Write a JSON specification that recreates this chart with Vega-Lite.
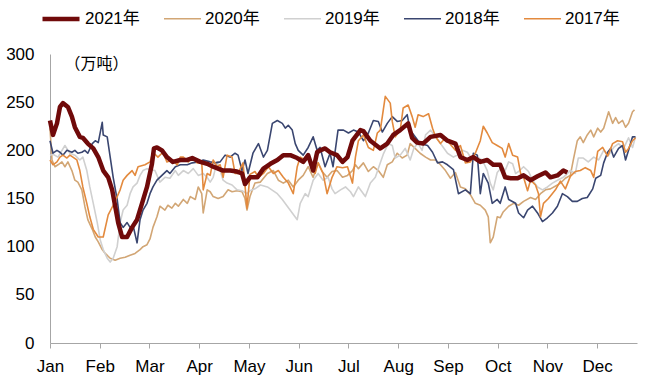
{
"$schema": "https://vega.github.io/schema/vega-lite/v6.json",
"width": 587, "height": 289,
"autosize": "none",
"padding": {"left": 50, "top": 54, "right": 21, "bottom": 41},
"background": "white",
"config": {"view": {"stroke": null}, "font": "Liberation Sans, Noto Sans CJK SC"},
"data": {"values": [
{"s":"2020年","t":0,"v":223},{"s":"2020年","t":0.04,"v":190},{"s":"2020年","t":0.1,"v":183},{"s":"2020年","t":0.16,"v":185},{"s":"2020年","t":0.24,"v":188},{"s":"2020年","t":0.3,"v":183},{"s":"2020年","t":0.36,"v":188},{"s":"2020年","t":0.44,"v":179},{"s":"2020年","t":0.5,"v":169},{"s":"2020年","t":0.56,"v":167},{"s":"2020年","t":0.64,"v":159},{"s":"2020年","t":0.7,"v":142},{"s":"2020年","t":0.76,"v":128},{"s":"2020年","t":0.85,"v":118},{"s":"2020年","t":0.91,"v":110},{"s":"2020年","t":0.97,"v":105},{"s":"2020年","t":1.05,"v":97},{"s":"2020年","t":1.11,"v":93},{"s":"2020年","t":1.21,"v":88},{"s":"2020年","t":1.31,"v":86},{"s":"2020年","t":1.41,"v":88},{"s":"2020年","t":1.51,"v":89},{"s":"2020年","t":1.61,"v":91},{"s":"2020年","t":1.71,"v":93},{"s":"2020年","t":1.81,"v":97},{"s":"2020年","t":1.87,"v":100},{"s":"2020年","t":1.95,"v":102},{"s":"2020年","t":2.01,"v":108},{"s":"2020年","t":2.07,"v":120},{"s":"2020年","t":2.15,"v":131},{"s":"2020年","t":2.21,"v":142},{"s":"2020年","t":2.31,"v":138},{"s":"2020年","t":2.37,"v":143},{"s":"2020年","t":2.45,"v":140},{"s":"2020年","t":2.52,"v":145},{"s":"2020年","t":2.58,"v":142},{"s":"2020年","t":2.68,"v":149},{"s":"2020年","t":2.76,"v":145},{"s":"2020年","t":2.82,"v":152},{"s":"2020年","t":2.92,"v":149},{"s":"2020年","t":2.98,"v":162},{"s":"2020年","t":3.05,"v":155},{"s":"2020年","t":3.08,"v":135},{"s":"2020年","t":3.16,"v":159},{"s":"2020年","t":3.22,"v":157},{"s":"2020年","t":3.28,"v":152},{"s":"2020年","t":3.38,"v":150},{"s":"2020年","t":3.48,"v":152},{"s":"2020年","t":3.58,"v":159},{"s":"2020年","t":3.66,"v":157},{"s":"2020年","t":3.76,"v":158},{"s":"2020年","t":3.86,"v":157},{"s":"2020年","t":3.92,"v":150},{"s":"2020年","t":3.96,"v":138},{"s":"2020年","t":4.02,"v":152},{"s":"2020年","t":4.12,"v":166},{"s":"2020年","t":4.23,"v":167},{"s":"2020年","t":4.37,"v":176},{"s":"2020年","t":4.49,"v":179},{"s":"2020年","t":4.59,"v":169},{"s":"2020年","t":4.69,"v":166},{"s":"2020年","t":4.79,"v":169},{"s":"2020年","t":4.89,"v":162},{"s":"2020年","t":4.99,"v":169},{"s":"2020年","t":5.09,"v":174},{"s":"2020年","t":5.19,"v":183},{"s":"2020年","t":5.29,"v":172},{"s":"2020年","t":5.39,"v":187},{"s":"2020年","t":5.47,"v":178},{"s":"2020年","t":5.57,"v":172},{"s":"2020年","t":5.67,"v":178},{"s":"2020年","t":5.77,"v":179},{"s":"2020年","t":5.88,"v":172},{"s":"2020年","t":5.98,"v":174},{"s":"2020年","t":6.08,"v":179},{"s":"2020年","t":6.14,"v":185},{"s":"2020年","t":6.2,"v":181},{"s":"2020年","t":6.3,"v":187},{"s":"2020年","t":6.4,"v":178},{"s":"2020年","t":6.5,"v":183},{"s":"2020年","t":6.6,"v":179},{"s":"2020年","t":6.7,"v":172},{"s":"2020年","t":6.78,"v":185},{"s":"2020年","t":6.88,"v":188},{"s":"2020年","t":6.98,"v":197},{"s":"2020年","t":7.08,"v":192},{"s":"2020年","t":7.18,"v":195},{"s":"2020年","t":7.24,"v":207},{"s":"2020年","t":7.34,"v":202},{"s":"2020年","t":7.44,"v":197},{"s":"2020年","t":7.55,"v":193},{"s":"2020年","t":7.65,"v":190},{"s":"2020年","t":7.75,"v":190},{"s":"2020年","t":7.85,"v":185},{"s":"2020年","t":7.95,"v":179},{"s":"2020年","t":8.05,"v":171},{"s":"2020年","t":8.15,"v":177},{"s":"2020年","t":8.25,"v":162},{"s":"2020年","t":8.35,"v":160},{"s":"2020年","t":8.45,"v":154},{"s":"2020年","t":8.55,"v":145},{"s":"2020年","t":8.65,"v":143},{"s":"2020年","t":8.75,"v":138},{"s":"2020年","t":8.81,"v":131},{"s":"2020年","t":8.85,"v":104},{"s":"2020年","t":8.91,"v":110},{"s":"2020年","t":8.99,"v":131},{"s":"2020年","t":9.05,"v":130},{"s":"2020年","t":9.11,"v":136},{"s":"2020年","t":9.22,"v":142},{"s":"2020年","t":9.32,"v":145},{"s":"2020年","t":9.42,"v":143},{"s":"2020年","t":9.52,"v":147},{"s":"2020年","t":9.66,"v":151},{"s":"2020年","t":9.76,"v":149},{"s":"2020年","t":9.86,"v":155},{"s":"2020年","t":9.96,"v":159},{"s":"2020年","t":10.06,"v":160},{"s":"2020年","t":10.2,"v":164},{"s":"2020年","t":10.26,"v":166},{"s":"2020年","t":10.36,"v":171},{"s":"2020年","t":10.46,"v":174},{"s":"2020年","t":10.52,"v":190},{"s":"2020年","t":10.6,"v":210},{"s":"2020年","t":10.66,"v":214},{"s":"2020年","t":10.72,"v":208},{"s":"2020年","t":10.8,"v":216},{"s":"2020年","t":10.87,"v":221},{"s":"2020年","t":10.93,"v":214},{"s":"2020年","t":11.01,"v":223},{"s":"2020年","t":11.07,"v":219},{"s":"2020年","t":11.13,"v":223},{"s":"2020年","t":11.23,"v":240},{"s":"2020年","t":11.31,"v":228},{"s":"2020年","t":11.37,"v":234},{"s":"2020年","t":11.43,"v":228},{"s":"2020年","t":11.51,"v":231},{"s":"2020年","t":11.57,"v":224},{"s":"2020年","t":11.63,"v":228},{"s":"2020年","t":11.71,"v":240},{"s":"2020年","t":11.75,"v":242},
{"s":"2019年","t":0,"v":195},{"s":"2019年","t":0.06,"v":196},{"s":"2019年","t":0.16,"v":193},{"s":"2019年","t":0.3,"v":205},{"s":"2019年","t":0.4,"v":197},{"s":"2019年","t":0.5,"v":195},{"s":"2019年","t":0.6,"v":190},{"s":"2019年","t":0.66,"v":193},{"s":"2019年","t":0.74,"v":179},{"s":"2019年","t":0.8,"v":162},{"s":"2019年","t":0.87,"v":145},{"s":"2019年","t":0.95,"v":125},{"s":"2019年","t":1.01,"v":107},{"s":"2019年","t":1.07,"v":97},{"s":"2019年","t":1.15,"v":88},{"s":"2019年","t":1.21,"v":84},{"s":"2019年","t":1.27,"v":88},{"s":"2019年","t":1.35,"v":100},{"s":"2019年","t":1.41,"v":125},{"s":"2019年","t":1.47,"v":138},{"s":"2019年","t":1.55,"v":143},{"s":"2019年","t":1.61,"v":155},{"s":"2019年","t":1.67,"v":162},{"s":"2019年","t":1.75,"v":166},{"s":"2019年","t":1.81,"v":174},{"s":"2019年","t":1.87,"v":179},{"s":"2019年","t":1.95,"v":181},{"s":"2019年","t":2.01,"v":180},{"s":"2019年","t":2.11,"v":179},{"s":"2019年","t":2.21,"v":167},{"s":"2019年","t":2.31,"v":172},{"s":"2019年","t":2.41,"v":171},{"s":"2019年","t":2.52,"v":179},{"s":"2019年","t":2.58,"v":174},{"s":"2019年","t":2.68,"v":179},{"s":"2019年","t":2.78,"v":176},{"s":"2019年","t":2.88,"v":181},{"s":"2019年","t":2.98,"v":174},{"s":"2019年","t":3.08,"v":176},{"s":"2019年","t":3.16,"v":172},{"s":"2019年","t":3.22,"v":167},{"s":"2019年","t":3.28,"v":172},{"s":"2019年","t":3.36,"v":188},{"s":"2019年","t":3.42,"v":179},{"s":"2019年","t":3.48,"v":169},{"s":"2019年","t":3.56,"v":166},{"s":"2019年","t":3.66,"v":164},{"s":"2019年","t":3.76,"v":159},{"s":"2019年","t":3.86,"v":158},{"s":"2019年","t":3.96,"v":155},{"s":"2019年","t":4.02,"v":158},{"s":"2019年","t":4.12,"v":160},{"s":"2019年","t":4.23,"v":164},{"s":"2019年","t":4.37,"v":162},{"s":"2019年","t":4.57,"v":155},{"s":"2019年","t":4.67,"v":149},{"s":"2019年","t":4.77,"v":142},{"s":"2019年","t":4.87,"v":135},{"s":"2019年","t":4.97,"v":128},{"s":"2019年","t":5.03,"v":145},{"s":"2019年","t":5.13,"v":155},{"s":"2019年","t":5.19,"v":152},{"s":"2019年","t":5.29,"v":169},{"s":"2019年","t":5.39,"v":176},{"s":"2019年","t":5.49,"v":169},{"s":"2019年","t":5.59,"v":172},{"s":"2019年","t":5.67,"v":160},{"s":"2019年","t":5.73,"v":155},{"s":"2019年","t":5.84,"v":159},{"s":"2019年","t":5.94,"v":162},{"s":"2019年","t":6.04,"v":157},{"s":"2019年","t":6.1,"v":152},{"s":"2019年","t":6.2,"v":162},{"s":"2019年","t":6.34,"v":152},{"s":"2019年","t":6.44,"v":166},{"s":"2019年","t":6.54,"v":172},{"s":"2019年","t":6.64,"v":187},{"s":"2019年","t":6.7,"v":196},{"s":"2019年","t":6.8,"v":207},{"s":"2019年","t":6.88,"v":205},{"s":"2019年","t":6.94,"v":192},{"s":"2019年","t":7.04,"v":195},{"s":"2019年","t":7.14,"v":202},{"s":"2019年","t":7.24,"v":190},{"s":"2019年","t":7.32,"v":203},{"s":"2019年","t":7.4,"v":207},{"s":"2019年","t":7.48,"v":200},{"s":"2019年","t":7.55,"v":216},{"s":"2019年","t":7.65,"v":221},{"s":"2019年","t":7.75,"v":214},{"s":"2019年","t":7.85,"v":207},{"s":"2019年","t":7.99,"v":197},{"s":"2019年","t":8.11,"v":193},{"s":"2019年","t":8.19,"v":195},{"s":"2019年","t":8.29,"v":200},{"s":"2019年","t":8.39,"v":198},{"s":"2019年","t":8.49,"v":190},{"s":"2019年","t":8.59,"v":193},{"s":"2019年","t":8.69,"v":190},{"s":"2019年","t":8.79,"v":179},{"s":"2019年","t":8.85,"v":166},{"s":"2019年","t":8.91,"v":159},{"s":"2019年","t":8.99,"v":177},{"s":"2019年","t":9.09,"v":183},{"s":"2019年","t":9.15,"v":179},{"s":"2019年","t":9.22,"v":188},{"s":"2019年","t":9.3,"v":186},{"s":"2019年","t":9.36,"v":176},{"s":"2019年","t":9.42,"v":178},{"s":"2019年","t":9.52,"v":183},{"s":"2019年","t":9.62,"v":178},{"s":"2019年","t":9.7,"v":169},{"s":"2019年","t":9.8,"v":162},{"s":"2019年","t":9.9,"v":159},{"s":"2019年","t":10,"v":162},{"s":"2019年","t":10.1,"v":166},{"s":"2019年","t":10.2,"v":169},{"s":"2019年","t":10.32,"v":172},{"s":"2019年","t":10.46,"v":179},{"s":"2019年","t":10.56,"v":176},{"s":"2019年","t":10.62,"v":192},{"s":"2019年","t":10.72,"v":192},{"s":"2019年","t":10.82,"v":188},{"s":"2019年","t":10.93,"v":193},{"s":"2019年","t":11.03,"v":190},{"s":"2019年","t":11.13,"v":200},{"s":"2019年","t":11.23,"v":195},{"s":"2019年","t":11.33,"v":203},{"s":"2019年","t":11.43,"v":207},{"s":"2019年","t":11.53,"v":202},{"s":"2019年","t":11.63,"v":213},{"s":"2019年","t":11.71,"v":203},{"s":"2019年","t":11.77,"v":214},
{"s":"2018年","t":0,"v":210},{"s":"2018年","t":0.06,"v":197},{"s":"2018年","t":0.14,"v":200},{"s":"2018年","t":0.2,"v":198},{"s":"2018年","t":0.26,"v":195},{"s":"2018年","t":0.34,"v":200},{"s":"2018年","t":0.44,"v":198},{"s":"2018年","t":0.5,"v":200},{"s":"2018年","t":0.56,"v":197},{"s":"2018年","t":0.64,"v":198},{"s":"2018年","t":0.7,"v":200},{"s":"2018年","t":0.76,"v":197},{"s":"2018年","t":0.85,"v":207},{"s":"2018年","t":0.91,"v":210},{"s":"2018年","t":0.97,"v":208},{"s":"2018年","t":1.05,"v":229},{"s":"2018年","t":1.07,"v":216},{"s":"2018年","t":1.15,"v":214},{"s":"2018年","t":1.21,"v":193},{"s":"2018年","t":1.27,"v":172},{"s":"2018年","t":1.35,"v":149},{"s":"2018年","t":1.41,"v":125},{"s":"2018年","t":1.47,"v":120},{"s":"2018年","t":1.55,"v":125},{"s":"2018年","t":1.61,"v":120},{"s":"2018年","t":1.67,"v":122},{"s":"2018年","t":1.75,"v":104},{"s":"2018年","t":1.81,"v":128},{"s":"2018年","t":1.87,"v":138},{"s":"2018年","t":1.95,"v":145},{"s":"2018年","t":2.01,"v":155},{"s":"2018年","t":2.07,"v":162},{"s":"2018年","t":2.15,"v":169},{"s":"2018年","t":2.25,"v":174},{"s":"2018年","t":2.35,"v":179},{"s":"2018年","t":2.41,"v":176},{"s":"2018年","t":2.52,"v":183},{"s":"2018年","t":2.62,"v":185},{"s":"2018年","t":2.76,"v":185},{"s":"2018年","t":2.86,"v":187},{"s":"2018年","t":2.98,"v":188},{"s":"2018年","t":3.08,"v":190},{"s":"2018年","t":3.22,"v":188},{"s":"2018年","t":3.32,"v":187},{"s":"2018年","t":3.42,"v":188},{"s":"2018年","t":3.52,"v":195},{"s":"2018年","t":3.62,"v":193},{"s":"2018年","t":3.72,"v":197},{"s":"2018年","t":3.78,"v":195},{"s":"2018年","t":3.86,"v":179},{"s":"2018年","t":3.92,"v":190},{"s":"2018年","t":3.98,"v":176},{"s":"2018年","t":4.08,"v":197},{"s":"2018年","t":4.19,"v":207},{"s":"2018年","t":4.29,"v":193},{"s":"2018年","t":4.37,"v":200},{"s":"2018年","t":4.47,"v":228},{"s":"2018年","t":4.57,"v":231},{"s":"2018年","t":4.67,"v":228},{"s":"2018年","t":4.73,"v":223},{"s":"2018年","t":4.79,"v":226},{"s":"2018年","t":4.87,"v":221},{"s":"2018年","t":4.93,"v":207},{"s":"2018年","t":4.99,"v":200},{"s":"2018年","t":5.09,"v":195},{"s":"2018年","t":5.19,"v":203},{"s":"2018年","t":5.29,"v":214},{"s":"2018年","t":5.37,"v":200},{"s":"2018年","t":5.43,"v":203},{"s":"2018年","t":5.53,"v":183},{"s":"2018年","t":5.63,"v":197},{"s":"2018年","t":5.69,"v":183},{"s":"2018年","t":5.79,"v":221},{"s":"2018年","t":5.9,"v":221},{"s":"2018年","t":6,"v":218},{"s":"2018年","t":6.1,"v":221},{"s":"2018年","t":6.2,"v":219},{"s":"2018年","t":6.3,"v":210},{"s":"2018年","t":6.4,"v":218},{"s":"2018年","t":6.5,"v":231},{"s":"2018年","t":6.6,"v":230},{"s":"2018年","t":6.68,"v":219},{"s":"2018年","t":6.78,"v":228},{"s":"2018年","t":6.88,"v":235},{"s":"2018年","t":6.98,"v":230},{"s":"2018年","t":7.08,"v":231},{"s":"2018年","t":7.18,"v":237},{"s":"2018年","t":7.24,"v":221},{"s":"2018年","t":7.34,"v":214},{"s":"2018年","t":7.44,"v":207},{"s":"2018年","t":7.59,"v":205},{"s":"2018年","t":7.69,"v":198},{"s":"2018年","t":7.79,"v":187},{"s":"2018年","t":7.89,"v":188},{"s":"2018年","t":7.99,"v":185},{"s":"2018年","t":8.11,"v":180},{"s":"2018年","t":8.21,"v":155},{"s":"2018年","t":8.35,"v":159},{"s":"2018年","t":8.45,"v":155},{"s":"2018年","t":8.51,"v":197},{"s":"2018年","t":8.59,"v":195},{"s":"2018年","t":8.65,"v":155},{"s":"2018年","t":8.71,"v":176},{"s":"2018年","t":8.81,"v":166},{"s":"2018年","t":8.89,"v":145},{"s":"2018年","t":8.99,"v":149},{"s":"2018年","t":9.05,"v":145},{"s":"2018年","t":9.15,"v":162},{"s":"2018年","t":9.22,"v":149},{"s":"2018年","t":9.36,"v":145},{"s":"2018年","t":9.42,"v":135},{"s":"2018年","t":9.52,"v":130},{"s":"2018年","t":9.6,"v":138},{"s":"2018年","t":9.7,"v":142},{"s":"2018年","t":9.8,"v":135},{"s":"2018年","t":9.9,"v":126},{"s":"2018年","t":10,"v":130},{"s":"2018年","t":10.1,"v":135},{"s":"2018年","t":10.2,"v":142},{"s":"2018年","t":10.3,"v":155},{"s":"2018年","t":10.4,"v":152},{"s":"2018年","t":10.5,"v":147},{"s":"2018年","t":10.6,"v":147},{"s":"2018年","t":10.7,"v":150},{"s":"2018年","t":10.8,"v":151},{"s":"2018年","t":10.91,"v":160},{"s":"2018年","t":10.97,"v":171},{"s":"2018年","t":11.07,"v":174},{"s":"2018年","t":11.13,"v":187},{"s":"2018年","t":11.21,"v":198},{"s":"2018年","t":11.27,"v":202},{"s":"2018年","t":11.33,"v":193},{"s":"2018年","t":11.43,"v":202},{"s":"2018年","t":11.51,"v":205},{"s":"2018年","t":11.57,"v":190},{"s":"2018年","t":11.63,"v":200},{"s":"2018年","t":11.71,"v":214},{"s":"2018年","t":11.77,"v":214},
{"s":"2017年","t":0,"v":190},{"s":"2017年","t":0.06,"v":185},{"s":"2017年","t":0.14,"v":188},{"s":"2017年","t":0.2,"v":193},{"s":"2017年","t":0.26,"v":195},{"s":"2017年","t":0.34,"v":192},{"s":"2017年","t":0.4,"v":195},{"s":"2017年","t":0.46,"v":193},{"s":"2017年","t":0.54,"v":190},{"s":"2017年","t":0.6,"v":179},{"s":"2017年","t":0.66,"v":162},{"s":"2017年","t":0.74,"v":145},{"s":"2017年","t":0.8,"v":131},{"s":"2017年","t":0.87,"v":118},{"s":"2017年","t":0.97,"v":110},{"s":"2017年","t":1.07,"v":110},{"s":"2017年","t":1.17,"v":133},{"s":"2017年","t":1.27,"v":143},{"s":"2017年","t":1.35,"v":152},{"s":"2017年","t":1.41,"v":159},{"s":"2017年","t":1.47,"v":169},{"s":"2017年","t":1.55,"v":174},{"s":"2017年","t":1.65,"v":179},{"s":"2017年","t":1.71,"v":174},{"s":"2017年","t":1.77,"v":183},{"s":"2017年","t":1.91,"v":185},{"s":"2017年","t":2.01,"v":188},{"s":"2017年","t":2.07,"v":198},{"s":"2017年","t":2.17,"v":193},{"s":"2017年","t":2.27,"v":198},{"s":"2017年","t":2.35,"v":188},{"s":"2017年","t":2.45,"v":190},{"s":"2017年","t":2.56,"v":185},{"s":"2017年","t":2.62,"v":193},{"s":"2017年","t":2.68,"v":193},{"s":"2017年","t":2.78,"v":188},{"s":"2017年","t":2.86,"v":193},{"s":"2017年","t":2.96,"v":187},{"s":"2017年","t":3.05,"v":188},{"s":"2017年","t":3.08,"v":159},{"s":"2017年","t":3.16,"v":176},{"s":"2017年","t":3.22,"v":174},{"s":"2017年","t":3.28,"v":190},{"s":"2017年","t":3.36,"v":183},{"s":"2017年","t":3.42,"v":185},{"s":"2017年","t":3.48,"v":172},{"s":"2017年","t":3.56,"v":195},{"s":"2017年","t":3.66,"v":193},{"s":"2017年","t":3.72,"v":176},{"s":"2017年","t":3.78,"v":176},{"s":"2017年","t":3.88,"v":187},{"s":"2017年","t":3.96,"v":140},{"s":"2017年","t":4.02,"v":175},{"s":"2017年","t":4.12,"v":178},{"s":"2017年","t":4.19,"v":172},{"s":"2017年","t":4.29,"v":176},{"s":"2017年","t":4.39,"v":183},{"s":"2017年","t":4.49,"v":176},{"s":"2017年","t":4.59,"v":179},{"s":"2017年","t":4.69,"v":172},{"s":"2017年","t":4.79,"v":166},{"s":"2017年","t":4.89,"v":155},{"s":"2017年","t":4.97,"v":183},{"s":"2017年","t":5.03,"v":193},{"s":"2017年","t":5.13,"v":190},{"s":"2017年","t":5.19,"v":195},{"s":"2017年","t":5.27,"v":179},{"s":"2017年","t":5.33,"v":176},{"s":"2017年","t":5.39,"v":187},{"s":"2017年","t":5.49,"v":176},{"s":"2017年","t":5.57,"v":155},{"s":"2017年","t":5.67,"v":172},{"s":"2017年","t":5.77,"v":183},{"s":"2017年","t":5.88,"v":182},{"s":"2017年","t":5.98,"v":183},{"s":"2017年","t":6.08,"v":166},{"s":"2017年","t":6.14,"v":193},{"s":"2017年","t":6.2,"v":210},{"s":"2017年","t":6.3,"v":216},{"s":"2017年","t":6.4,"v":203},{"s":"2017年","t":6.5,"v":200},{"s":"2017年","t":6.58,"v":218},{"s":"2017年","t":6.64,"v":221},{"s":"2017年","t":6.7,"v":242},{"s":"2017年","t":6.74,"v":256},{"s":"2017年","t":6.84,"v":249},{"s":"2017年","t":6.88,"v":230},{"s":"2017年","t":6.94,"v":214},{"s":"2017年","t":7.04,"v":221},{"s":"2017年","t":7.1,"v":244},{"s":"2017年","t":7.2,"v":247},{"s":"2017年","t":7.28,"v":235},{"s":"2017年","t":7.34,"v":224},{"s":"2017年","t":7.4,"v":237},{"s":"2017年","t":7.5,"v":235},{"s":"2017年","t":7.61,"v":238},{"s":"2017年","t":7.69,"v":223},{"s":"2017年","t":7.75,"v":214},{"s":"2017年","t":7.85,"v":207},{"s":"2017年","t":7.95,"v":213},{"s":"2017年","t":8.05,"v":206},{"s":"2017年","t":8.15,"v":200},{"s":"2017年","t":8.25,"v":205},{"s":"2017年","t":8.35,"v":187},{"s":"2017年","t":8.45,"v":188},{"s":"2017年","t":8.55,"v":197},{"s":"2017年","t":8.65,"v":210},{"s":"2017年","t":8.71,"v":225},{"s":"2017年","t":8.79,"v":218},{"s":"2017年","t":8.89,"v":208},{"s":"2017年","t":8.99,"v":205},{"s":"2017年","t":9.09,"v":202},{"s":"2017年","t":9.15,"v":193},{"s":"2017年","t":9.22,"v":207},{"s":"2017年","t":9.3,"v":195},{"s":"2017年","t":9.4,"v":193},{"s":"2017年","t":9.46,"v":176},{"s":"2017年","t":9.52,"v":172},{"s":"2017年","t":9.6,"v":158},{"s":"2017年","t":9.66,"v":169},{"s":"2017年","t":9.76,"v":164},{"s":"2017年","t":9.82,"v":155},{"s":"2017年","t":9.86,"v":131},{"s":"2017年","t":9.92,"v":145},{"s":"2017年","t":10.02,"v":150},{"s":"2017年","t":10.16,"v":159},{"s":"2017年","t":10.26,"v":168},{"s":"2017年","t":10.36,"v":160},{"s":"2017年","t":10.46,"v":173},{"s":"2017年","t":10.56,"v":178},{"s":"2017年","t":10.66,"v":179},{"s":"2017年","t":10.76,"v":182},{"s":"2017年","t":10.87,"v":179},{"s":"2017年","t":10.93,"v":172},{"s":"2017年","t":11.01,"v":199},{"s":"2017年","t":11.11,"v":203},{"s":"2017年","t":11.21,"v":194},{"s":"2017年","t":11.31,"v":207},{"s":"2017年","t":11.41,"v":210},{"s":"2017年","t":11.51,"v":209},{"s":"2017年","t":11.57,"v":198},{"s":"2017年","t":11.63,"v":202},{"s":"2017年","t":11.71,"v":210},{"s":"2017年","t":11.77,"v":213},
{"s":"2021年","t":0,"v":231},{"s":"2021年","t":0.06,"v":216},{"s":"2021年","t":0.14,"v":228},{"s":"2021年","t":0.2,"v":245},{"s":"2021年","t":0.26,"v":249},{"s":"2021年","t":0.36,"v":245},{"s":"2021年","t":0.44,"v":235},{"s":"2021年","t":0.5,"v":224},{"s":"2021年","t":0.6,"v":214},{"s":"2021年","t":0.66,"v":213},{"s":"2021年","t":0.76,"v":207},{"s":"2021年","t":0.87,"v":202},{"s":"2021年","t":0.97,"v":193},{"s":"2021年","t":1.07,"v":179},{"s":"2021年","t":1.17,"v":172},{"s":"2021年","t":1.25,"v":159},{"s":"2021年","t":1.31,"v":142},{"s":"2021年","t":1.37,"v":125},{"s":"2021年","t":1.45,"v":110},{"s":"2021年","t":1.55,"v":110},{"s":"2021年","t":1.65,"v":120},{"s":"2021年","t":1.75,"v":128},{"s":"2021年","t":1.85,"v":145},{"s":"2021年","t":1.95,"v":162},{"s":"2021年","t":2.05,"v":186},{"s":"2021年","t":2.09,"v":202},{"s":"2021年","t":2.15,"v":203},{"s":"2021年","t":2.25,"v":200},{"s":"2021年","t":2.35,"v":193},{"s":"2021年","t":2.47,"v":188},{"s":"2021年","t":2.62,"v":190},{"s":"2021年","t":2.76,"v":190},{"s":"2021年","t":2.86,"v":192},{"s":"2021年","t":3.02,"v":188},{"s":"2021年","t":3.16,"v":186},{"s":"2021年","t":3.28,"v":183},{"s":"2021年","t":3.48,"v":179},{"s":"2021年","t":3.62,"v":179},{"s":"2021年","t":3.76,"v":178},{"s":"2021年","t":3.86,"v":176},{"s":"2021年","t":3.92,"v":165},{"s":"2021年","t":4.02,"v":172},{"s":"2021年","t":4.17,"v":172},{"s":"2021年","t":4.29,"v":181},{"s":"2021年","t":4.43,"v":186},{"s":"2021年","t":4.57,"v":190},{"s":"2021年","t":4.69,"v":195},{"s":"2021年","t":4.83,"v":195},{"s":"2021年","t":4.97,"v":192},{"s":"2021年","t":5.09,"v":188},{"s":"2021年","t":5.19,"v":195},{"s":"2021年","t":5.29,"v":179},{"s":"2021年","t":5.37,"v":198},{"s":"2021年","t":5.43,"v":200},{"s":"2021年","t":5.53,"v":202},{"s":"2021年","t":5.63,"v":198},{"s":"2021年","t":5.77,"v":195},{"s":"2021年","t":5.88,"v":188},{"s":"2021年","t":5.98,"v":193},{"s":"2021年","t":6.08,"v":210},{"s":"2021年","t":6.24,"v":221},{"s":"2021年","t":6.3,"v":220},{"s":"2021年","t":6.44,"v":210},{"s":"2021年","t":6.64,"v":202},{"s":"2021年","t":6.78,"v":207},{"s":"2021年","t":6.9,"v":216},{"s":"2021年","t":7.04,"v":221},{"s":"2021年","t":7.2,"v":228},{"s":"2021年","t":7.28,"v":213},{"s":"2021年","t":7.38,"v":208},{"s":"2021年","t":7.5,"v":207},{"s":"2021年","t":7.65,"v":214},{"s":"2021年","t":7.85,"v":216},{"s":"2021年","t":7.99,"v":210},{"s":"2021年","t":8.15,"v":207},{"s":"2021年","t":8.25,"v":193},{"s":"2021年","t":8.39,"v":190},{"s":"2021年","t":8.51,"v":193},{"s":"2021年","t":8.65,"v":188},{"s":"2021年","t":8.79,"v":190},{"s":"2021年","t":8.91,"v":185},{"s":"2021年","t":9.05,"v":185},{"s":"2021年","t":9.15,"v":172},{"s":"2021年","t":9.26,"v":171},{"s":"2021年","t":9.4,"v":171},{"s":"2021年","t":9.52,"v":174},{"s":"2021年","t":9.66,"v":169},{"s":"2021年","t":9.8,"v":173},{"s":"2021年","t":9.96,"v":177},{"s":"2021年","t":10.06,"v":172},{"s":"2021年","t":10.2,"v":174},{"s":"2021年","t":10.32,"v":179},{"s":"2021年","t":10.4,"v":177}
]},
"mark": {"type": "line", "strokeJoin": "round", "strokeCap": "butt"},
"encoding": {
  "x": {"field": "t", "type": "quantitative",
    "scale": {"domain": [0, 11.8], "nice": false, "zero": false},
    "axis": {"values": [0,1,2,3,4,5,6,7,8,9,10,11], "labelExpr": "['Jan','Feb','Mar','Apr','May','Jun','Jul','Aug','Sep','Oct','Nov','Dec'][datum.value]",
      "title": null, "grid": false, "domainColor": "#A6A6A6", "tickColor": "#A6A6A6", "tickSize": 5, "labelPadding": 10,
      "labelFont": "Liberation Sans", "labelFontSize": 17, "labelColor": "#000000", "labelFlush": false, "labelOverlap": false}},
  "y": {"field": "v", "type": "quantitative",
    "scale": {"domain": [0, 300], "nice": false},
    "axis": {"values": [0,50,100,150,200,250,300], "title": "（万吨）", "titleAngle": 0, "titleAlign": "left", "titleBaseline": "middle",
      "titleX": 14, "titleY": 9, "titleFontSize": 16, "titleFontWeight": "normal", "titleFont": "Noto Sans CJK SC", "titleColor": "#000000",
      "grid": false, "ticks": false, "domainColor": "#A6A6A6", "labelPadding": 16,
      "labelFont": "Liberation Sans", "labelFontSize": 17, "labelColor": "#000000"}},
  "color": {"field": "s", "type": "nominal",
    "scale": {"domain": ["2021年","2020年","2019年","2018年","2017年"], "range": ["#700A0A","#D2A675","#D0D0D0","#3A4670","#E38A3E"]},
    "legend": {"title": null, "orient": "none", "direction": "horizontal", "legendX": -10, "legendY": -56, "padding": 0,
      "symbolType": "stroke", "symbolSize": 1369, "labelFontSize": 17, "labelFont": "Liberation Sans, Noto Sans CJK SC", "labelColor": "#000000",
      "labelOffset": 3, "columnPadding": 20, "symbolStrokeWidth": 1.5}},
  "strokeWidth": {"field": "s", "type": "nominal",
    "scale": {"type": "ordinal", "domain": ["2021年","2020年","2019年","2018年","2017年"], "range": [4.5,1.6,1.6,1.6,1.6]}}
}
}
